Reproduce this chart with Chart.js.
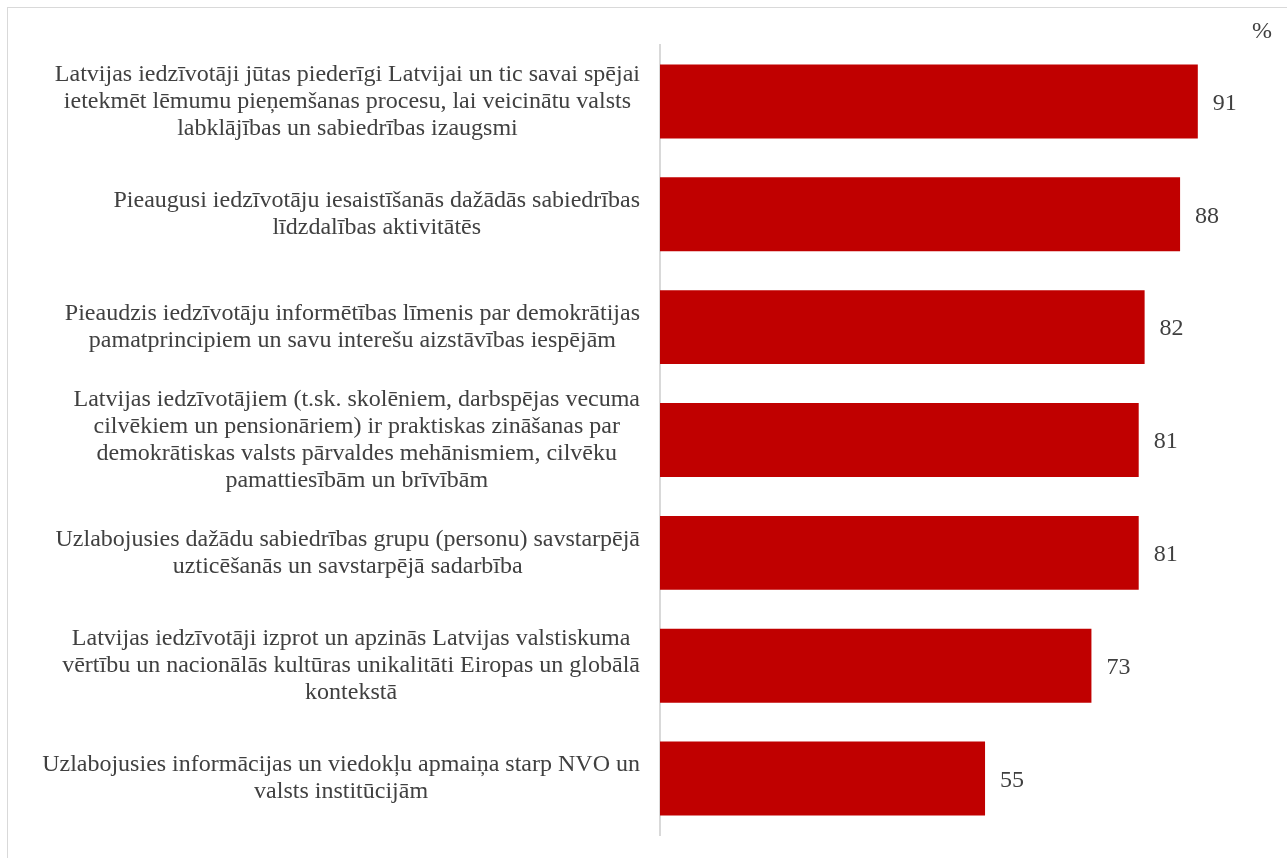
<!DOCTYPE html>
<html>
<head>
<meta charset="utf-8">
<script src="https://cdn.jsdelivr.net/npm/chart.js@4"></script>
<style>
    html, body { margin: 0; padding: 0; background: #fff; overflow: hidden; }
    #frame { position: absolute; left: 7px; top: 7px; width: 1290px; height: 860px; border: 1px solid #d9d9d9; box-sizing: border-box; }
    #wrap { position: absolute; left: 0; top: 0; width: 1287px; height: 858px; }
</style>
</head>
<body>
<div id="frame"></div>
<div id="wrap"><canvas id="chart"></canvas></div>
<script>
// category labels, one array of lines per bar (top to bottom)
const categories = [
    ['Latvijas iedzīvotāji jūtas piederīgi Latvijai un tic savai spējai', 'ietekmēt lēmumu pieņemšanas procesu, lai veicinātu valsts', 'labklājības un sabiedrības izaugsmi'],
    ['Pieaugusi iedzīvotāju iesaistīšanās dažādās sabiedrības', 'līdzdalības aktivitātēs'],
    ['Pieaudzis iedzīvotāju informētības līmenis par demokrātijas', 'pamatprincipiem un savu interešu aizstāvības iespējām'],
    ['Latvijas iedzīvotājiem (t.sk. skolēniem, darbspējas vecuma', 'cilvēkiem un pensionāriem) ir praktiskas zināšanas par', 'demokrātiskas valsts pārvaldes mehānismiem, cilvēku', 'pamattiesībām un brīvībām'],
    ['Uzlabojusies dažādu sabiedrības grupu (personu) savstarpējā', 'uzticēšanās un savstarpējā sadarbība'],
    ['Latvijas iedzīvotāji izprot un apzinās Latvijas valstiskuma', 'vērtību un nacionālās kultūras unikalitāti Eiropas un globālā', 'kontekstā'],
    ['Uzlabojusies informācijas un viedokļu apmaiņa starp NVO un', 'valsts institūcijām']
];
const values = [91, 88, 82, 81, 81, 73, 55];
const unitLabel = '%';

const FONT = '24px "Liberation Serif", "Times New Roman", serif';
const TEXT = '#404040';

const labelsPlugin = {
    id: 'labelsPlugin',
    afterDraw(chart) {
        const ctx = chart.ctx;
        const yScale = chart.scales.y;
        const area = chart.chartArea;
        ctx.save();
        ctx.font = FONT;
        ctx.fillStyle = TEXT;

        // category labels: each block centred on itself, right edge near the axis
        ctx.textAlign = 'center';
        ctx.textBaseline = 'middle';
        const lineH = 27;
        categories.forEach((lines, i) => {
            const yc = yScale.getPixelForTick(i);
            const w = Math.max(...lines.map(l => ctx.measureText(l).width));
            const cx = area.left - 20 - w / 2;
            const top = yc - (lines.length - 1) * lineH / 2;
            lines.forEach((l, j) => ctx.fillText(l, cx, top + j * lineH));
        });

        // value labels
        ctx.textAlign = 'left';
        chart.getDatasetMeta(0).data.forEach((bar, i) => {
            ctx.fillText(String(values[i]), bar.x + 15, bar.y + 2);
        });

        // unit
        ctx.textAlign = 'right';
        ctx.fillText(unitLabel, area.right + 21, area.top - 13);
        ctx.restore();
    }
};

new Chart(document.getElementById('chart'), {
    type: 'bar',
    data: {
        labels: categories,
        datasets: [{
            data: values,
            backgroundColor: '#c00000',
            borderWidth: 0,
            categoryPercentage: 1,
            barPercentage: 0.655
        }]
    },
    options: {
        indexAxis: 'y',
        responsive: true,
        maintainAspectRatio: false,
        animation: false,
        layout: { padding: { top: 45, right: 36, bottom: 23, left: 0 } },
        plugins: {
            legend: { display: false },
            tooltip: { enabled: false }
        },
        scales: {
            x: { display: false, min: 0, max: 100 },
            y: {
                grid: { display: false },
                ticks: { display: false },
                border: { display: true, color: '#d9d9d9', width: 2 },
                afterFit: s => { s.width = 660; }
            }
        }
    },
    plugins: [labelsPlugin]
});
</script>
</body>
</html>
